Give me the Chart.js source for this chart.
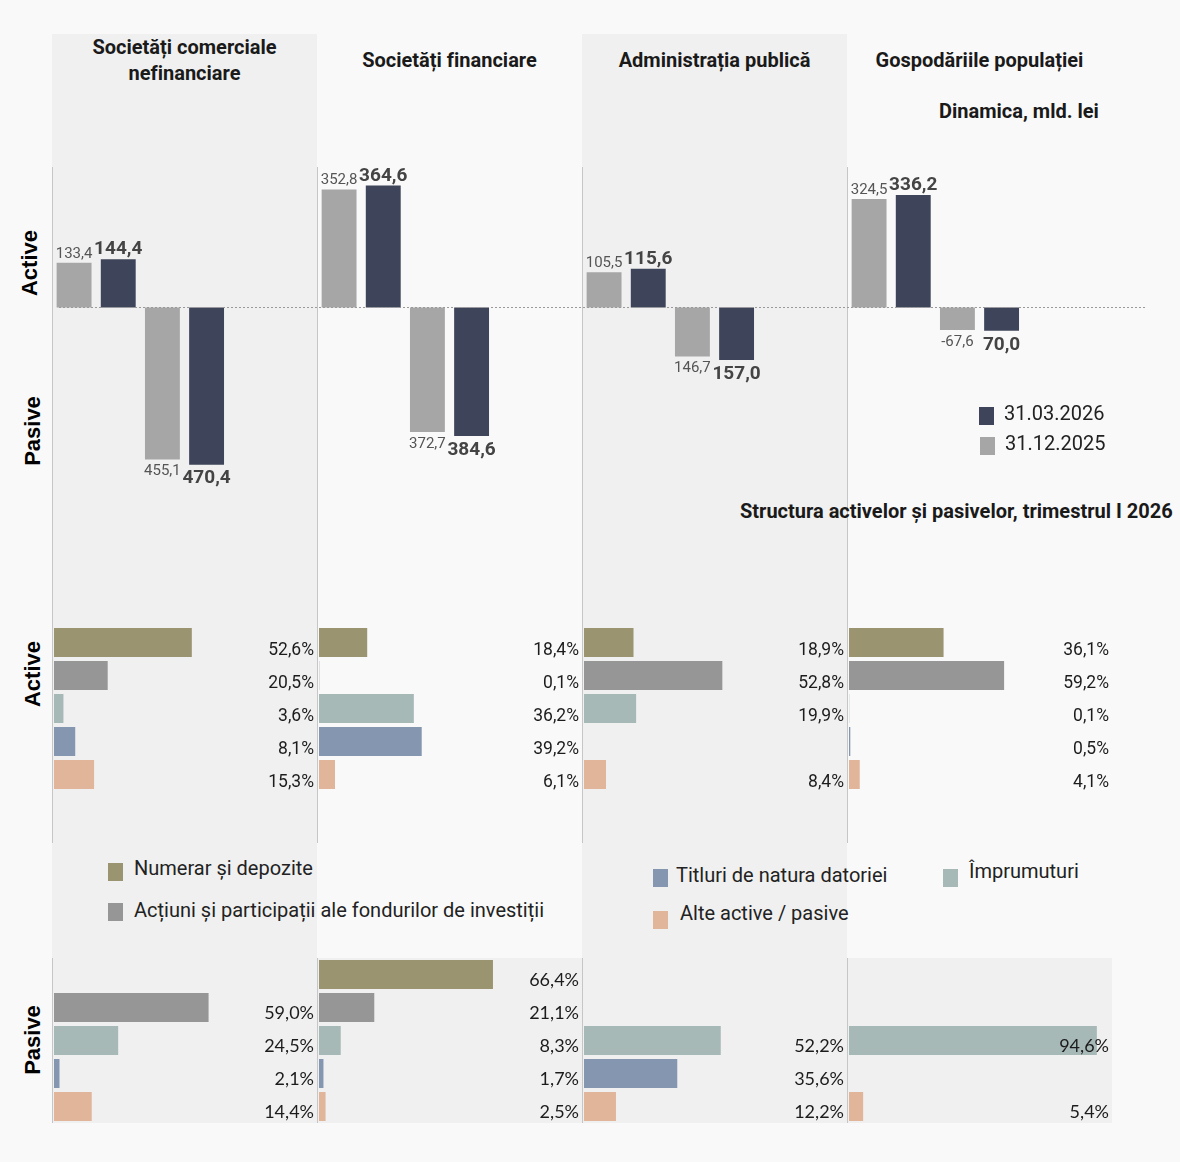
<!DOCTYPE html>
<html lang="ro">
<head>
<meta charset="utf-8">
<title>Active și pasive pe sectoare</title>
<script src="https://cdn.jsdelivr.net/npm/chart.js@4.4.1/dist/chart.umd.min.js"></script>
<style>
  html, body { margin: 0; padding: 0; background: #f9f9f9; }
  body { width: 1180px; height: 1162px; position: relative; overflow: hidden;
         font-family: Roboto, "Noto Sans", sans-serif; color: #1a1a1a; font-variant-ligatures: none; }
  .shade { position: absolute; background: #f0f0f0; }
  .vline { position: absolute; width: 1px; background: #c6c6c6; }
  .head { position: absolute; width: 265px; text-align: center; font-weight: 700;
          font-size: 20px; line-height: 26px; }
  .title { position: absolute; font-weight: 700; font-size: 20px; line-height: 26px; white-space: nowrap; }
  .side { position: absolute; font-family: "Liberation Sans", Arial, sans-serif; font-weight: 700;
          font-size: 22px; transform: translate(-50%, -50%) rotate(-90deg); white-space: nowrap; color: #000; }
  .sq { position: absolute; width: 15px; height: 18px; }
  .lg { position: absolute; font-size: 20px; line-height: 24px; white-space: nowrap; color: #222; }
  .box { position: absolute; }
</style>
</head>
<body>
  <!-- column shading and separators -->
  <div class="shade" style="left:52px;top:34px;width:265px;height:924px"></div>
  <div class="shade" style="left:582px;top:34px;width:265px;height:924px"></div>
  <div class="shade" style="left:52px;top:958px;width:1060px;height:165px"></div>

  <div class="vline" style="left:52px;top:167px;height:676px"></div>
  <div class="vline" style="left:317px;top:167px;height:676px"></div>
  <div class="vline" style="left:582px;top:167px;height:676px"></div>
  <div class="vline" style="left:847px;top:167px;height:676px"></div>
  <div class="vline" style="left:52px;top:958px;height:165px"></div>
  <div class="vline" style="left:317px;top:958px;height:165px"></div>
  <div class="vline" style="left:582px;top:958px;height:165px"></div>
  <div class="vline" style="left:847px;top:958px;height:165px"></div>

  <!-- headings -->
  <div class="head" style="left:52px;top:34px">Societăți comerciale<br>nefinanciare</div>
  <div class="head" style="left:317px;top:47px">Societăți financiare</div>
  <div class="head" style="left:582px;top:47px">Administrația publică</div>
  <div class="head" style="left:847px;top:47px">Gospodăriile populației</div>
  <div class="title" style="left:939px;top:98px">Dinamica, mld. lei</div>
  <div class="title" style="left:740px;top:498px">Structura activelor și pasivelor, trimestrul I 2026</div>

  <div class="side" style="left:30px;top:263px">Active</div>
  <div class="side" style="left:33px;top:431px">Pasive</div>
  <div class="side" style="left:33px;top:674px">Active</div>
  <div class="side" style="left:33px;top:1040px">Pasive</div>

  <!-- charts -->
  <div class="box" style="left:52px;top:140px;width:1093px;height:360px"><canvas id="dyn"></canvas></div>
  <div class="box" style="left:54px;top:626px;width:262px;height:165px"><canvas id="act0"></canvas></div>
  <div class="box" style="left:319px;top:626px;width:262px;height:165px"><canvas id="act1"></canvas></div>
  <div class="box" style="left:584px;top:626px;width:262px;height:165px"><canvas id="act2"></canvas></div>
  <div class="box" style="left:849px;top:626px;width:262px;height:165px"><canvas id="act3"></canvas></div>
  <div class="box" style="left:54px;top:958px;width:262px;height:165px"><canvas id="pas0"></canvas></div>
  <div class="box" style="left:319px;top:958px;width:262px;height:165px"><canvas id="pas1"></canvas></div>
  <div class="box" style="left:584px;top:958px;width:262px;height:165px"><canvas id="pas2"></canvas></div>
  <div class="box" style="left:849px;top:958px;width:262px;height:165px"><canvas id="pas3"></canvas></div>

  <!-- legends -->
  <div class="sq" style="left:979px;top:407px;background:#3e4459"></div>
  <div class="lg" style="left:1004px;top:401px">31.03.2026</div>
  <div class="sq" style="left:980px;top:437px;background:#a6a6a6"></div>
  <div class="lg" style="left:1005px;top:431px">31.12.2025</div>

  <div class="sq" style="left:108px;top:863px;background:#9a9470"></div>
  <div class="lg" style="left:134px;top:856px">Numerar și depozite</div>
  <div class="sq" style="left:108px;top:903px;background:#969696"></div>
  <div class="lg" style="left:134px;top:898px">Acțiuni și participații ale fondurilor de investiții</div>
  <div class="sq" style="left:653px;top:869px;background:#8496b0"></div>
  <div class="lg" style="left:676px;top:863px">Titluri de natura datoriei</div>
  <div class="sq" style="left:943px;top:869px;background:#a7b9b7"></div>
  <div class="lg" style="left:969px;top:859px">Împrumuturi</div>
  <div class="sq" style="left:653px;top:911px;background:#e1b59a"></div>
  <div class="lg" style="left:680px;top:901px">Alte active / pasive</div>

<script>
// Dinamica, mld. lei
const sectors = ["Societăți comerciale nefinanciare", "Societăți financiare", "Administrația publică", "Gospodăriile populației"];
const active2025 = [133.4, 352.8, 105.5, 324.5];
const active2026 = [144.4, 364.6, 115.6, 336.2];
const passive2025 = [455.1, 372.7, 146.7, -67.6];
const passive2026 = [470.4, 384.6, 157.0, 70.0];

// Structura, % (order: numerar, acțiuni, împrumuturi, titluri, alte)
const instruments = ["Numerar și depozite", "Acțiuni și participații ale fondurilor de investiții", "Împrumuturi", "Titluri de natura datoriei", "Alte active / pasive"];
const instrumentColors = ["#9a9470", "#969696", "#a7b9b7", "#8496b0", "#e1b59a"];
const activeNefin = [52.6, 20.5, 3.6, 8.1, 15.3];
const activeFin = [18.4, 0.1, 36.2, 39.2, 6.1];
const activeAdm = [18.9, 52.8, 19.9, null, 8.4];
const activeGosp = [36.1, 59.2, 0.1, 0.5, 4.1];
const passiveNefin = [null, 59.0, 24.5, 2.1, 14.4];
const passiveFin = [66.4, 21.1, 8.3, 1.7, 2.5];
const passiveAdm = [null, null, 52.2, 35.6, 12.2];
const passiveGosp = [null, null, 94.6, null, 5.4];

const fmt = (v) => v.toFixed(1).replace(".", ",");

const barValues = {
  id: "barValues",
  afterDatasetsDraw(chart) {
    const ctx = chart.ctx;
    chart.data.datasets.forEach((ds, di) => {
      const meta = chart.getDatasetMeta(di);
      meta.data.forEach((bar, i) => {
        const v = ds.data[i];
        if (v == null) return;
        ctx.save();
        ctx.font = ds.labelWeight + " " + ds.labelSize + "px Roboto";
        ctx.fillStyle = ds.labelColor;
        ctx.textAlign = "center";
        ctx.textBaseline = "alphabetic";
        const y = v >= 0 ? bar.y - 5 : bar.y + 5 + ds.labelSize * 0.72;
        ctx.fillText(fmt(ds.shown[i]), bar.x, y);
        ctx.restore();
      });
    });
  }
};

const zeroLine = {
  id: "zeroLine",
  afterDatasetsDraw(chart) {
    const ctx = chart.ctx;
    const y = Math.round(chart.scales.y.getPixelForValue(0)) + 0.5;
    ctx.save();
    ctx.strokeStyle = "#9a9a9a";
    ctx.lineWidth = 1;
    ctx.setLineDash([2, 2]);
    ctx.beginPath();
    ctx.moveTo(chart.chartArea.left + 7, y);
    ctx.lineTo(chart.width, y);
    ctx.stroke();
    ctx.restore();
  }
};

const slots = sectors.flatMap(() => ["Active", "Pasive", ""]);
const flat = (a, p, sign) => sectors.flatMap((s, i) => [a[i], sign ? -Math.abs(p[i]) : p[i], null]);

new Chart(document.getElementById("dyn"), {
  type: "bar",
  data: {
    labels: slots,
    datasets: [
      {
        label: "31.12.2025",
        data: flat(active2025, passive2025, true),
        shown: flat(active2025, passive2025, false),
        backgroundColor: "#a6a6a6",
        labelSize: 15, labelWeight: "400", labelColor: "#555555"
      },
      {
        label: "31.03.2026",
        data: flat(active2026, passive2026, true),
        shown: flat(active2026, passive2026, false),
        backgroundColor: "#3e4459",
        labelSize: 19, labelWeight: "700", labelColor: "#444444"
      }
    ]
  },
  options: {
    responsive: true,
    maintainAspectRatio: false,
    animation: false,
    layout: { padding: { top: 27, right: 33, bottom: 12, left: 0 } },
    datasets: { bar: { categoryPercentage: 1, barPercentage: 0.79 } },
    scales: {
      x: { display: false },
      y: { display: false, min: -540, max: 420 }
    },
    plugins: { legend: { display: false }, tooltip: { enabled: false } }
  },
  plugins: [zeroLine, barValues]
});

const pctLabels = {
  id: "pctLabels",
  afterDatasetsDraw(chart, args, opts) {
    const ctx = chart.ctx;
    const ds = chart.data.datasets[0];
    chart.getDatasetMeta(0).data.forEach((bar, i) => {
      const v = ds.data[i];
      if (v == null) return;
      ctx.save();
      ctx.font = opts.font;
      ctx.fillStyle = "#1c1c1c";
      ctx.textAlign = "right";
      ctx.textBaseline = "middle";
      ctx.fillText(fmt(v) + "%", chart.chartArea.right - 2, bar.y + opts.shift);
      ctx.restore();
    });
  }
};

function structChart(id, values, font, shift) {
  new Chart(document.getElementById(id), {
    type: "bar",
    data: {
      labels: instruments,
      datasets: [{ data: values, backgroundColor: instrumentColors, barPercentage: 0.88, categoryPercentage: 1 }]
    },
    options: {
      indexAxis: "y",
      responsive: true,
      maintainAspectRatio: false,
      animation: false,
      layout: { padding: 0 },
      scales: {
        x: { display: false, min: 0, max: 100 },
        y: { display: false }
      },
      plugins: { legend: { display: false }, tooltip: { enabled: false }, pctLabels: { font: font, shift: shift } }
    },
    plugins: [pctLabels]
  });
}

const actFont = "17.5px Roboto";
const pasFont = "18px Lato";
structChart("act0", activeNefin, actFont, 8);
structChart("act1", activeFin, actFont, 8);
structChart("act2", activeAdm, actFont, 8);
structChart("act3", activeGosp, actFont, 8);
structChart("pas0", passiveNefin, pasFont, 5.5);
structChart("pas1", passiveFin, pasFont, 5.5);
structChart("pas2", passiveAdm, pasFont, 5.5);
structChart("pas3", passiveGosp, pasFont, 5.5);
</script>
</body>
</html>
